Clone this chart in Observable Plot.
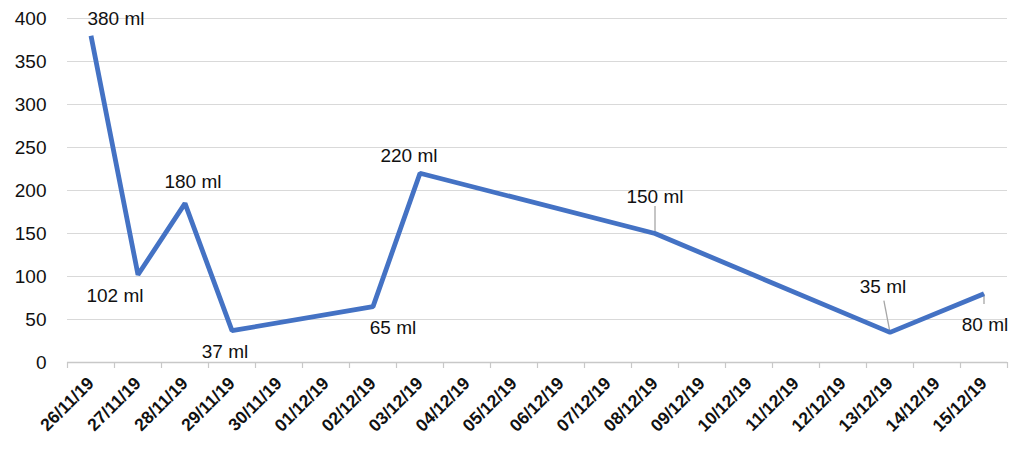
<!DOCTYPE html>
<html>
<head>
<meta charset="utf-8">
<script src="https://cdn.jsdelivr.net/npm/d3@7"></script>
<script src="https://cdn.jsdelivr.net/npm/@observablehq/plot@0.6"></script>
<style>
  html, body { margin: 0; padding: 0; background: #fff; }
  #chart { width: 1015px; height: 451px; }
  svg { font-family: "Liberation Sans", Arial, sans-serif; }
</style>
</head>
<body>
<div id="chart"></div>
<script>
// Category axis (every day shown)
const dates = ["26/11/19","27/11/19","28/11/19","29/11/19","30/11/19","01/12/19","02/12/19","03/12/19","04/12/19","05/12/19","06/12/19","07/12/19","08/12/19","09/12/19","10/12/19","11/12/19","12/12/19","13/12/19","14/12/19","15/12/19"];
// Measured points
const pointDates = ["26/11/19","27/11/19","28/11/19","29/11/19","02/12/19","03/12/19","08/12/19","13/12/19","15/12/19"];
const volumes = [380, 102, 185, 37, 65, 220, 150, 35, 80];
const labelTexts = ["380 ml","102 ml","180 ml","37 ml","65 ml","220 ml","150 ml","35 ml","80 ml"];
const yTicks = [0, 50, 100, 150, 200, 250, 300, 350, 400];

// label offsets (px) relative to point
const labelDx = [25, -23, 8, -7, 20, -11, 0, -7, 1];
const labelDy = [-17, 21, -21, 21, 21, -17, -37, -45, 31];
// leader lines: [date, to value, x shift in categories]
const leaderDates = ["08/12/19", "13/12/19", "15/12/19"];
const leaderEnds = [182, 72, 68];
const leaderShift = [0, -0.13, 0];

const idx = d => dates.indexOf(d) + 0.5;
const points = pointDates.map((d, i) => ({date: d, x: idx(d), v: volumes[i], label: labelTexts[i], dx: labelDx[i], dy: labelDy[i]}));
const leaders = leaderDates.map((d, i) => {
  const p = points.find(q => q.date === d);
  return {x1: p.x, y1: p.v, x2: p.x + leaderShift[i], y2: leaderEnds[i]};
});

const chart = Plot.plot({
  width: 1015,
  height: 451,
  marginLeft: 67,
  marginRight: 8,
  marginTop: 18,
  marginBottom: 89,
  style: {fontFamily: "'Liberation Sans', Arial, sans-serif", background: "#fff"},
  x: {type: "linear", domain: [0, dates.length]},
  y: {domain: [0, 400]},
  marks: [
    Plot.gridY(yTicks, {stroke: "#d9d9d9", strokeOpacity: 1, strokeWidth: 1.2}),
    Plot.ruleY([0], {stroke: "#c8c8c8", strokeWidth: 1.5}),
    Plot.axisX(d3.range(dates.length + 1), {tickSize: 6, stroke: "#c8c8c8", tickFormat: () => "", strokeWidth: 1.2}),
    Plot.axisX(dates.map((d, i) => i + 0.5), {
      tickSize: 0, tickPadding: 18, tickRotate: -45,
      tickFormat: i => dates[Math.floor(i)],
      fontSize: 17.5, fontWeight: "bold", fill: "#111", label: null
    }),
    Plot.axisY(yTicks, {tickSize: 0, tickPadding: 21, fontSize: 19, fill: "#111", label: null}),
    Plot.link(leaders, {x1: "x1", y1: "y1", x2: "x2", y2: "y2", stroke: "#a6a6a6", strokeWidth: 1.3}),
    Plot.line(points, {x: "x", y: "v", stroke: "#4472C4", strokeWidth: 4.8, strokeLinejoin: "miter", strokeLinecap: "butt"}),
    ...points.map(p => Plot.text([p], {x: "x", y: "v", text: "label", dx: p.dx, dy: p.dy, fontSize: 19, fill: "#111"}))
  ]
});
document.getElementById("chart").appendChild(chart);
</script>
</body>
</html>
